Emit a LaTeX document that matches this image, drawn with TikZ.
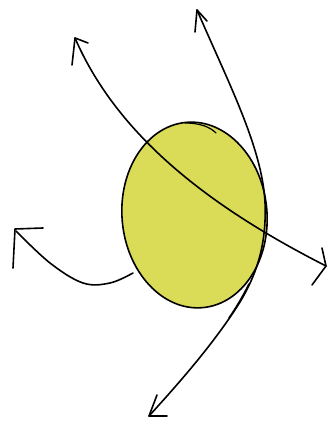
\documentclass[tikz,border=0pt]{standalone}
\begin{document}
\begin{tikzpicture}[x=1pt,y=1pt,
  ink/.style={draw=black,line width=1.6pt,line cap=round,line join=round},
  thinink/.style={draw=black,line width=1.2pt,line cap=round}]
\useasboundingbox[fill=white] (0,0) rectangle (327,422);
\definecolor{eggfill}{RGB}{218,219,86}
% egg
\coordinate (c) at (194.5,207);
\draw[ink,fill=eggfill] (c) ellipse [x radius=72.5,y radius=93,rotate=5];
\draw[thinink] (185,299) .. controls (200,299) and (210,295) .. (216,289);
\draw[ink] (249,138) .. controls (243,126) and (236,114) .. (229,104);
% path 1 (top-left to right)
\coordinate (a1) at (75,384);
\coordinate (b1) at (326,156);
\draw[ink] (a1) .. controls (120,280) and (220,210) .. (b1);
\draw[ink] (72,357) -- (a1) -- (88,379);
\draw[ink] (322,174) -- (b1) -- (312,137);
% path 2 (top to bottom-left)
\coordinate (a2) at (197,412);
\coordinate (m2) at (265,220);
\coordinate (n2) at (240,120);
\coordinate (b2) at (149,6);
\draw[ink] (a2) .. controls (228,340) and (262,275) .. (m2)
  .. controls (267,175) and (255,145) .. (n2)
  .. controls (215,80) and (180,40) .. (b2);
\draw[ink] (195,390) -- (a2) -- (207,401);
\draw[ink] (157,27) -- (b2) -- (167,6);
% path 3 (egg to left)
\coordinate (s3) at (133,149);
\coordinate (b3) at (16,191);
\draw[ink] plot[smooth,tension=0.6] coordinates {(s3) (110,139) (83,139) (50,159) (b3)};
\draw[ink] (13,154) -- (15,193) -- (43,194);
\end{tikzpicture}
\end{document}
